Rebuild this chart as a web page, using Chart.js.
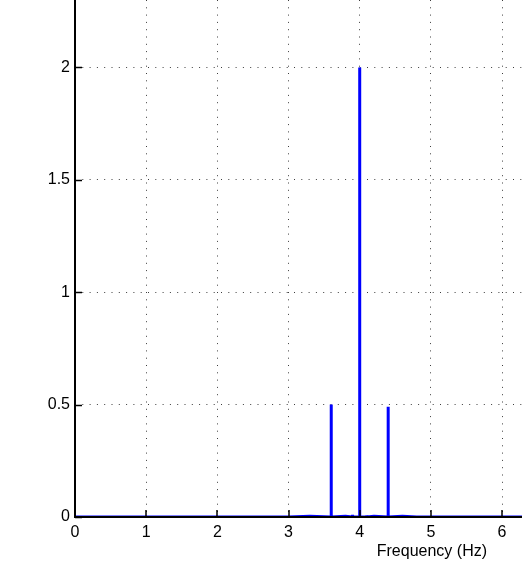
<!DOCTYPE html>
<html>
<head>
<meta charset="utf-8">
<script src="https://cdn.jsdelivr.net/npm/chart.js@4/dist/chart.umd.min.js"></script>
<style>
  html, body { margin: 0; padding: 0; background: #fff; }
  #wrap { position: relative; width: 522px; height: 588px; }
</style>
</head>
<body>
<div id="wrap"><canvas id="c" width="522" height="588"></canvas></div>
<script>
// Spectrum (Frequency in Hz, amplitude)
const freqHz = [0, 3.0, 3.3, 3.6, 3.6, 3.6, 3.8, 3.9, 3.9, 3.9, 4.0, 4.0, 4.0, 4.1, 4.1, 4.1, 4.2, 4.4, 4.4, 4.4, 4.6, 4.8, 6.28];
const amplitude = [0, 0, 0.003, 0, 0.5, 0, 0.003, 0, 0.01, 0, 0, 2.0, 0, 0, 0.008, 0, 0.003, 0, 0.49, 0, 0.003, 0, 0];
const xTicks = [0, 1, 2, 3, 4, 5, 6];
const yTicks = [0, 0.5, 1, 1.5, 2];
const xLabel = 'Frequency (Hz)';

const FONT = '"Liberation Sans", Arial, Helvetica, sans-serif';

const axesPlugin = {
  id: 'matlabAxes',
  afterDatasetsDraw(chart) {
    const ctx = chart.ctx;
    const a = chart.chartArea;
    const xs = chart.scales.x, ys = chart.scales.y;
    ctx.save();
    ctx.strokeStyle = '#000';
    ctx.lineWidth = 2;
    ctx.beginPath();
    ctx.moveTo(a.left, a.top);
    ctx.lineTo(a.left, a.bottom);
    ctx.lineTo(a.right, a.bottom);
    ctx.stroke();
    ctx.lineWidth = 1.5;
    ctx.beginPath();
    xTicks.forEach(v => {
      const px = Math.round(xs.getPixelForValue(v));
      ctx.moveTo(px, a.bottom);
      ctx.lineTo(px, a.bottom - 7);
    });
    yTicks.forEach(v => {
      const py = Math.round(ys.getPixelForValue(v)) + 0.5;
      ctx.moveTo(a.left, py);
      ctx.lineTo(a.left + 7, py);
    });
    ctx.stroke();
    ctx.fillStyle = '#000';
    ctx.font = '16px ' + FONT;
    ctx.textAlign = 'center';
    ctx.textBaseline = 'alphabetic';
    ctx.fillText(xLabel, xs.getPixelForValue(5) + 1, 556);
    ctx.restore();
  }
};

new Chart(document.getElementById('c'), {
  type: 'line',
  data: {
    datasets: [{
      data: freqHz.map((f, i) => ({ x: f, y: amplitude[i] })),
      borderColor: '#0000ff',
      backgroundColor: '#0000ff',
      borderWidth: 3,
      pointRadius: 0,
      tension: 0,
      fill: false
    }]
  },
  plugins: [axesPlugin],
  options: {
    responsive: false,
    animation: false,
    devicePixelRatio: 1,
    layout: { padding: 0 },
    plugins: { legend: { display: false }, tooltip: { enabled: false }, title: { display: false } },
    scales: {
      x: {
        type: 'linear',
        min: 0,
        max: 6.28,
        afterBuildTicks: s => { s.ticks = xTicks.map(v => ({ value: v })); },
        afterFit: s => { s.height = 71; s.paddingLeft = 0; s.paddingRight = 0; },
        border: { display: false, dash: [1, 6.3] },
        grid: {
          color: 'rgba(40,40,40,0.9)',
          lineWidth: 1,
          drawTicks: false
        },
        ticks: {
          color: '#000',
          font: { family: FONT, size: 16 },
          padding: 6,
          maxRotation: 0,
          autoSkip: false,
          callback: v => String(v)
        }
      },
      y: {
        type: 'linear',
        min: 0,
        max: 2.3,
        afterBuildTicks: s => { s.ticks = yTicks.map(v => ({ value: v })); },
        afterFit: s => { s.width = 75; s.paddingTop = 0; s.paddingBottom = 0; },
        border: { display: false, dash: [1, 6.3] },
        grid: {
          color: 'rgba(40,40,40,0.9)',
          lineWidth: 1,
          drawTicks: false
        },
        ticks: {
          color: '#000',
          font: { family: FONT, size: 16 },
          padding: 5,
          autoSkip: false,
          callback: v => String(v)
        }
      }
    }
  }
});
</script>
</body>
</html>
